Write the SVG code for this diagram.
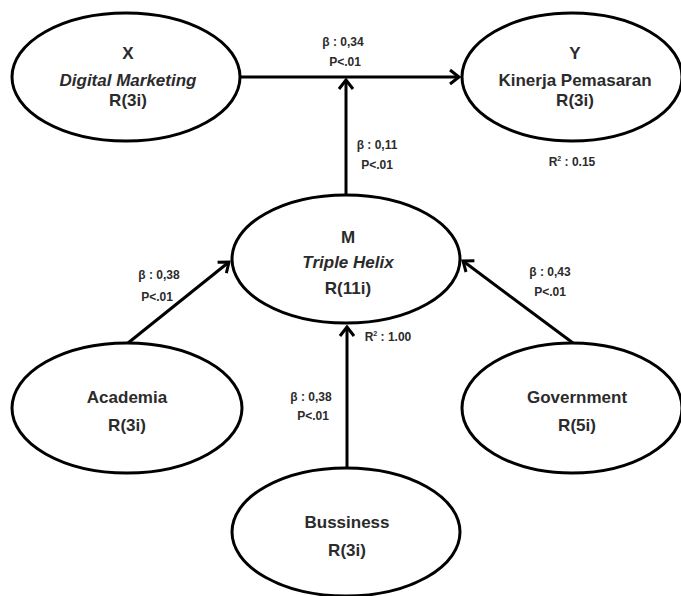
<svg xmlns="http://www.w3.org/2000/svg" width="681" height="596" viewBox="0 0 681 596">
<defs>
<marker id="arr" markerUnits="userSpaceOnUse" markerWidth="20" markerHeight="20" refX="10" refY="10" orient="auto" overflow="visible">
<path d="M1,3 L10,10 L1,17" fill="none" stroke="#000" stroke-width="3" stroke-linejoin="miter"/>
</marker>
<style>
.node ellipse{fill:#fff;stroke:#000;stroke-width:3}
.t{font-family:"Liberation Sans",Arial,sans-serif;font-weight:bold;font-size:17px;fill:#2b2b2b;text-anchor:middle}
.i{font-style:italic}
.s{font-family:"Liberation Sans",Arial,sans-serif;font-weight:bold;font-size:12px;fill:#2b2b2b;text-anchor:middle}
.c line{stroke:#000;stroke-width:3;fill:none}
</style>
</defs>
<rect width="681" height="596" fill="#fff"/>
<g class="c" id="connectors">
<line x1="241" y1="77" x2="459" y2="77" marker-end="url(#arr)"/>
<line x1="346" y1="194" x2="346" y2="80" marker-end="url(#arr)"/>
<line x1="128" y1="343" x2="229" y2="262" marker-end="url(#arr)"/>
<line x1="573" y1="343" x2="463" y2="261" marker-end="url(#arr)"/>
<line x1="347" y1="468" x2="347" y2="327" marker-end="url(#arr)"/>
</g>
<g class="node" id="X">
<ellipse cx="126" cy="77" rx="114" ry="64"/>
<text class="t" x="128" y="59">X</text>
<text class="t i" x="128" y="86">Digital Marketing</text>
<text class="t" x="128" y="106">R(3i)</text>
</g>
<g class="node" id="Y">
<ellipse cx="572" cy="77" rx="110" ry="64"/>
<text class="t" x="575" y="59">Y</text>
<text class="t" x="575" y="86">Kinerja Pemasaran</text>
<text class="t" x="575" y="106">R(3i)</text>
</g>
<g class="node" id="M">
<ellipse cx="346" cy="259" rx="114" ry="64"/>
<text class="t" x="348" y="243">M</text>
<text class="t i" x="348" y="268">Triple Helix</text>
<text class="t" x="348" y="294">R(11i)</text>
</g>
<g class="node" id="Academia">
<ellipse cx="127" cy="408" rx="115" ry="65"/>
<text class="t" x="127" y="403">Academia</text>
<text class="t" x="127" y="431">R(3i)</text>
</g>
<g class="node" id="Government">
<ellipse cx="572" cy="408" rx="110" ry="65"/>
<text class="t" x="577" y="403">Government</text>
<text class="t" x="577" y="431">R(5i)</text>
</g>
<g class="node" id="Bussiness">
<ellipse cx="346" cy="532" rx="114" ry="64"/>
<text class="t" x="347" y="528">Bussiness</text>
<text class="t" x="347" y="556">R(3i)</text>
</g>
<g id="labels">
<text class="s" x="343" y="46">β : 0,34</text>
<text class="s" x="345" y="66">P&lt;.01</text>
<text class="s" x="377" y="149">β : 0,11</text>
<text class="s" x="377" y="169">P&lt;.01</text>
<text class="s" x="572" y="166">R<tspan dy="-5" font-size="7">2</tspan><tspan dy="5"> : 0.15</tspan></text>
<text class="s" x="159" y="279">β : 0,38</text>
<text class="s" x="157" y="301">P&lt;.01</text>
<text class="s" x="550" y="276">β : 0,43</text>
<text class="s" x="550" y="296">P&lt;.01</text>
<text class="s" x="388" y="341">R<tspan dy="-5" font-size="7">2</tspan><tspan dy="5"> : 1.00</tspan></text>
<text class="s" x="311" y="401">β : 0,38</text>
<text class="s" x="313" y="420">P&lt;.01</text>
</g>
</svg>
